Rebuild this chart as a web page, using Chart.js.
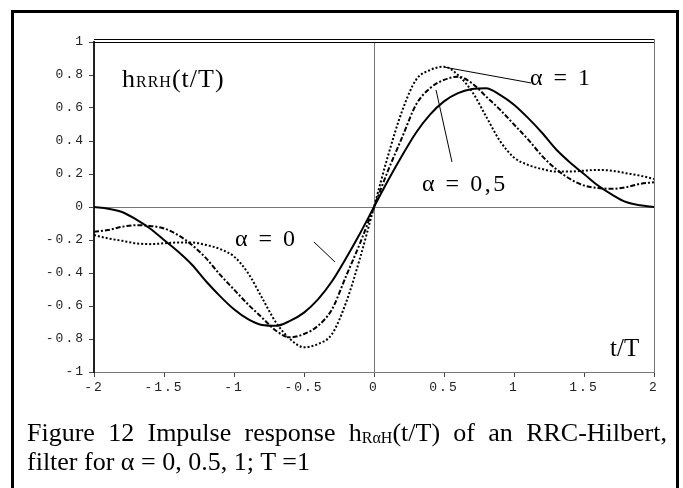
<!DOCTYPE html>
<html>
<head>
<meta charset="utf-8">
<script src="https://cdn.jsdelivr.net/npm/chart.js@4.4.1/dist/chart.umd.min.js"></script>
<style>
  body { margin: 0; background: #fff; }
  #wrap { position: relative; width: 683px; height: 488px; overflow: hidden; }
  #frame { position: absolute; left: 11px; top: 10px; width: 668px; height: 500px; border: 3px solid #000; box-sizing: border-box; pointer-events: none; }
  #caption { position: absolute; left: 27px; top: 418px; width: 640px; font-family: "Liberation Serif", "Times New Roman", serif; font-size: 26px; line-height: 29px; color: #000; }
  #caption .l1 { text-align: justify; text-align-last: justify; white-space: nowrap; }
  #caption sub { font-size: 16px; vertical-align: -2px; line-height: 0; }
</style>
</head>
<body>
<div id="wrap">
  <canvas id="rrcHilbertChart"></canvas>
  <div id="frame"></div>
  <div id="caption">
    <div class="l1">Figure 12 Impulse response h<sub>RαH</sub>(t/T) of an RRC-Hilbert,</div>
    <div>filter for α = 0, 0.5, 1; T =1</div>
  </div>
</div>
<script>
// time axis t/T
const tValues = [-2, -1.9, -1.8, -1.7, -1.6, -1.5, -1.4, -1.3, -1.2, -1.1, -1, -0.9, -0.8, -0.7, -0.6, -0.5, -0.4, -0.3, -0.2, -0.1,
  0, 0.1, 0.2, 0.3, 0.4, 0.5, 0.6, 0.7, 0.8, 0.9, 1, 1.1, 1.2, 1.3, 1.4, 1.5, 1.6, 1.7, 1.8, 1.9, 2];

// impulse responses
const alpha0 = [0, -0.01, -0.03, -0.075, -0.13, -0.20, -0.27, -0.35, -0.45, -0.54, -0.62, -0.68, -0.715, -0.72, -0.69, -0.64, -0.56, -0.45, -0.31, -0.16,
  0, 0.16, 0.31, 0.45, 0.56, 0.64, 0.69, 0.715, 0.72, 0.68, 0.62, 0.54, 0.45, 0.35, 0.27, 0.20, 0.13, 0.075, 0.03, 0.01, 0];
const alpha05 = [-0.15, -0.14, -0.12, -0.11, -0.115, -0.13, -0.17, -0.23, -0.31, -0.41, -0.50, -0.59, -0.67, -0.75, -0.79, -0.77, -0.72, -0.62, -0.42, -0.22,
  0, 0.22, 0.42, 0.62, 0.72, 0.77, 0.79, 0.75, 0.67, 0.59, 0.50, 0.41, 0.31, 0.23, 0.17, 0.13, 0.115, 0.11, 0.12, 0.14, 0.15];
const alpha1 = [-0.17, -0.19, -0.205, -0.22, -0.225, -0.22, -0.215, -0.215, -0.23, -0.255, -0.30, -0.40, -0.55, -0.70, -0.80, -0.85, -0.83, -0.77, -0.58, -0.31,
  0, 0.31, 0.58, 0.77, 0.83, 0.85, 0.80, 0.70, 0.55, 0.40, 0.30, 0.255, 0.23, 0.215, 0.215, 0.22, 0.225, 0.22, 0.205, 0.19, 0.17];

// tick labels
const xTickLabels = ['-2', '-1.5', '-1', '-0.5', '0', '0.5', '1', '1.5', '2'];
const yTickLabels = ['-1', '-0.8', '-0.6', '-0.4', '-0.2', '0', '0.2', '0.4', '0.6', '0.8', '1'];

const toPoints = (vals) => vals.map((v, i) => ({ x: tValues[i], y: v }));

// text labels and leader lines, in data units
const labels = [
  { text: 'α = 1', x: 1.114, y: 0.739 },
  { text: 'α = 0,5', x: 0.343, y: 0.097 },
  { text: 'α = 0', x: -0.993, y: -0.236 }
];
const leaders = [
  [1.121, 0.752, 0.5, 0.848],
  [0.443, 0.709, 0.557, 0.273],
  [-0.429, -0.212, -0.279, -0.333]
];

const spacing = {
  id: 'spacing',
  beforeUpdate(chart) { chart.ctx.letterSpacing = '2px'; },
  beforeDraw(chart) { chart.ctx.letterSpacing = '2px'; }
};

const annotations = {
  id: 'annotations',
  afterDraw(chart) {
    const { ctx, chartArea: a } = chart;
    const sx = chart.scales.x, sy = chart.scales.y;
    ctx.save();
    // double line on top, thin border on the right
    ctx.strokeStyle = '#000';
    ctx.lineWidth = 1;
    ctx.beginPath();
    ctx.moveTo(a.left, 39.5); ctx.lineTo(a.right, 39.5);
    ctx.moveTo(a.left, 42.5); ctx.lineTo(a.right, 42.5);
    ctx.stroke();
    ctx.strokeStyle = '#777';
    ctx.beginPath();
    ctx.moveTo(a.right + 0.5, 39); ctx.lineTo(a.right + 0.5, a.bottom);
    ctx.stroke();

    // leader lines
    ctx.strokeStyle = '#000';
    ctx.beginPath();
    leaders.forEach(l => {
      ctx.moveTo(sx.getPixelForValue(l[0]), sy.getPixelForValue(l[1]));
      ctx.lineTo(sx.getPixelForValue(l[2]), sy.getPixelForValue(l[3]));
    });
    ctx.stroke();

    ctx.fillStyle = '#000';
    ctx.textBaseline = 'alphabetic';
    ctx.textAlign = 'left';
    ctx.letterSpacing = '2.5px';
    ctx.font = '24px "Liberation Serif", serif';
    labels.forEach(l => ctx.fillText(l.text, sx.getPixelForValue(l.x), sy.getPixelForValue(l.y)));

    // y-axis name h_RRH(t/T)
    ctx.letterSpacing = '1px';
    let px = sx.getPixelForValue(-1.8);
    const py = sy.getPixelForValue(0.727);
    ctx.font = '26px "Liberation Serif", serif';
    ctx.fillText('h', px, py); px += ctx.measureText('h').width;
    ctx.font = '16px "Liberation Serif", serif';
    ctx.fillText('RRH', px, py); px += ctx.measureText('RRH').width;
    ctx.font = '26px "Liberation Serif", serif';
    ctx.fillText('(t/T)', px, py);

    // x-axis name
    ctx.letterSpacing = '0px';
    ctx.font = '25px "Liberation Serif", serif';
    ctx.fillText('t/T', sx.getPixelForValue(1.686), sy.getPixelForValue(-0.903));
    ctx.restore();
  }
};

const config = {
  type: 'line',
  data: {
    datasets: [
      { label: 'α = 0', data: toPoints(alpha0), borderColor: '#000', borderWidth: 2 },
      { label: 'α = 0.5', data: toPoints(alpha05), borderColor: '#000', borderWidth: 2, borderDash: [5, 2, 2, 2] },
      { label: 'α = 1', data: toPoints(alpha1), borderColor: '#000', borderWidth: 2, borderDash: [2, 2] }
    ]
  },
  options: {
    responsive: true,
    maintainAspectRatio: false,
    animation: false,
    events: [],
    layout: { padding: { left: 0, right: 29, top: 42, bottom: 86 } },
    elements: {
      point: { radius: 0 },
      line: { cubicInterpolationMode: 'monotone', fill: false }
    },
    plugins: {
      legend: { display: false },
      tooltip: { enabled: false }
    },
    scales: {
      x: {
        type: 'linear',
        min: -2,
        max: 2,
        afterFit: (s) => { s.height = 30; },
        afterBuildTicks: (s) => { s.ticks = xTickLabels.map(v => ({ value: Number(v) })); },
        ticks: {
          autoSkip: false,
          maxRotation: 0,
          padding: 3,
          color: '#222',
          font: { family: '"Liberation Mono", monospace', size: 13 },
          callback: (v, i) => xTickLabels[i]
        },
        grid: {
          color: (c) => (c.tick && c.tick.value === 0 ? '#777' : 'rgba(0,0,0,0)'),
          tickColor: '#444',
          tickLength: 5
        },
        border: { display: true, color: '#777', width: 1 }
      },
      y: {
        min: -1,
        max: 1,
        afterFit: (s) => { s.width = 94; },
        afterBuildTicks: (s) => { s.ticks = yTickLabels.map(v => ({ value: Number(v) })); },
        ticks: {
          autoSkip: false,
          padding: 4,
          color: '#222',
          font: { family: '"Liberation Mono", monospace', size: 13 },
          callback: (v, i) => yTickLabels[i]
        },
        grid: {
          color: (c) => (c.tick && c.tick.value === 0 ? '#777' : 'rgba(0,0,0,0)'),
          tickColor: '#444',
          tickLength: 5
        },
        border: { display: true, color: '#222', width: 2 }
      }
    }
  },
  plugins: [spacing, annotations]
};

window.addEventListener('DOMContentLoaded', () => {
  const rrcHilbertChart = new Chart(document.getElementById('rrcHilbertChart'), config);
});
</script>
</body>
</html>
